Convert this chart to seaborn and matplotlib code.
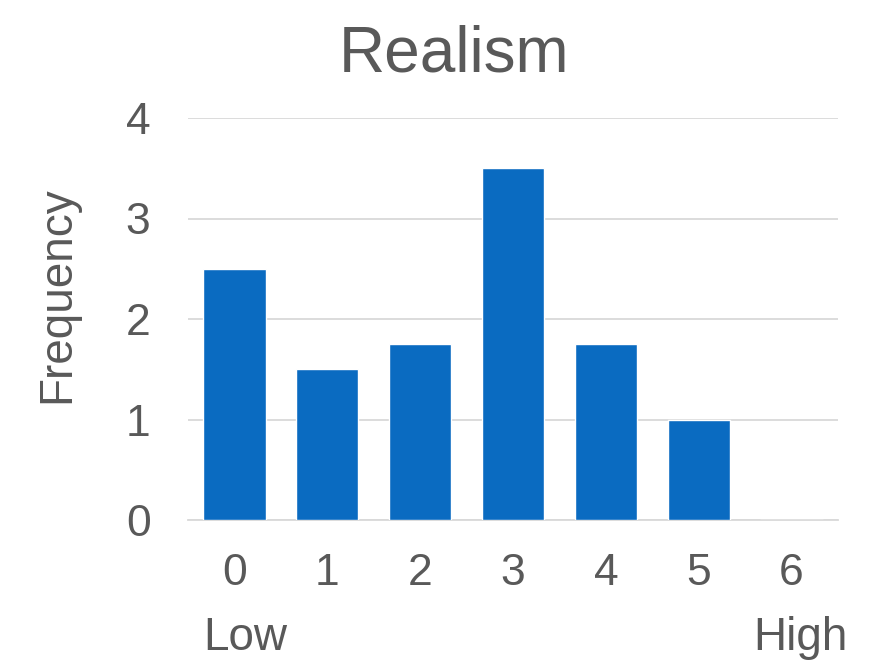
import matplotlib
matplotlib.use('Agg')
import matplotlib.pyplot as plt
import pandas as pd
import seaborn as sns

scores = ['0', '1', '2', '3', '4', '5', '6']
frequency = [2.5, 1.5, 1.75, 3.5, 1.75, 1.0, 0.0]
title = 'Realism'
low_label, high_label = 'Low', 'High'

sns.set_style('white')
plt.rcParams['font.family'] = ['Liberation Sans', 'DejaVu Sans']
grey = '#595959'

df = pd.DataFrame({'score': scores, 'frequency': frequency})

fig = plt.figure(figsize=(8.82, 6.6), dpi=100)
ax = fig.add_axes([188 / 882, 1 - 520 / 660, 650 / 882, 402 / 660])
sns.barplot(data=df, x='score', y='frequency', color='#0A6BC1', saturation=1,
            width=0.67, ax=ax, zorder=3)

ax.set_ylim(0, 4)
ax.set_xlim(-0.5, 6.5)
ax.set_yticks([0, 1, 2, 3, 4])
ax.yaxis.grid(True, color='#d9d9d9', linewidth=1.3, zorder=0)
ax.set_axisbelow(True)
for s in ['top', 'right', 'left']:
    ax.spines[s].set_visible(False)
ax.spines['bottom'].set_color('#d9d9d9')
ax.spines['bottom'].set_linewidth(1.3)
ax.tick_params(axis='both', length=0, labelsize=32, labelcolor=grey)
ax.tick_params(axis='x', pad=24)
ax.tick_params(axis='y', pad=27)
ax.set_xlabel('')
ax.set_ylabel('')

fig.text(454 / 882, 1 - 72 / 660, title, fontsize=46, color=grey,
         ha='center', va='baseline')
fig.text(57 / 882, 1 - 295 / 660, 'Frequency', fontsize=33, color=grey,
         ha='center', va='center', rotation=90)
fig.text(245 / 882, 1 - 650 / 660, low_label, fontsize=33, color=grey,
         ha='center', va='baseline')
fig.text(800 / 882, 1 - 650 / 660, high_label, fontsize=33, color=grey,
         ha='center', va='baseline')

fig.savefig('out.png', dpi=100)
